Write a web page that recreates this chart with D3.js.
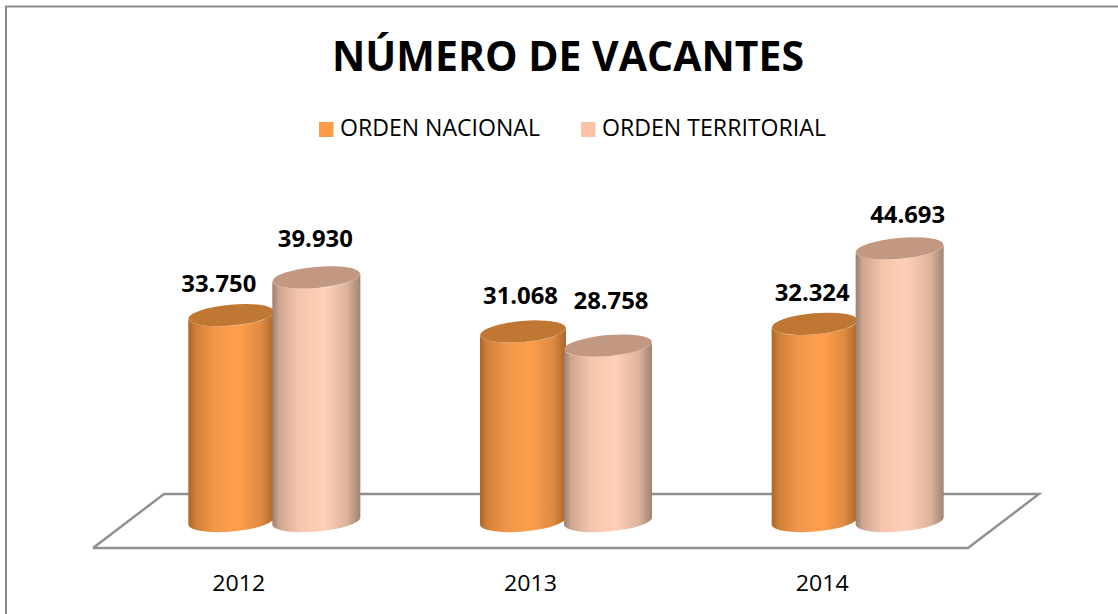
<!DOCTYPE html>
<html><head><meta charset="utf-8">
<script src="https://cdn.jsdelivr.net/npm/d3@7/dist/d3.min.js"></script>
<style>html,body{margin:0;padding:0;background:#fff}svg{display:block}text{font-family:"Open Sans",sans-serif}</style>
</head><body><div id="c"></div>
<script>
const categories = ["2012","2013","2014"];
const seriesNames = ["ORDEN NACIONAL","ORDEN TERRITORIAL"];
const nacional = [33750,31068,32324];
const territorial = [39930,28758,44693];
const labelTexts = [["33.750","31.068","32.324"],["39.930","28.758","44.693"]];
const labelDx = [[-12.5,-2.5,-2.5],[-1,3,8]];
const labelDy = [[-23,-27,-23],[-30,-37,-25]];

const W=1118,H=614;
const svg=d3.select("#c").append("svg").attr("width",W).attr("height",H);
const defs=svg.append("defs");
function grad(id,stops){
  const g=defs.append("linearGradient").attr("id",id).attr("x1",0).attr("x2",1).attr("y1",0).attr("y2",0);
  stops.forEach(s=>g.append("stop").attr("offset",s[0]).attr("stop-color",s[1]));
}
grad("g0",[[0,"#a9652a"],[.08,"#d07f38"],[.3,"#f0964a"],[.58,"#ff9f4d"],[.85,"#dd8a41"],[1,"#a9662c"]]);
grad("g1",[[0,"#9c7f6e"],[.08,"#cfa691"],[.3,"#f5c5ac"],[.58,"#ffd0b8"],[.85,"#ddb39c"],[1,"#a08372"]]);
const capColors=["#bf7733","#c39883"];
const swatch=["#fd9b48","#fcc2a8"];

// chart frame: only the top and left edges fall inside the picture
svg.append("path").attr("fill","none").attr("stroke","#8c8c8c").attr("stroke-width",2)
  .attr("d",d3.line()([[6,H],[6,6.5],[W,6.5]]));

// scales
const depthX=34;
const x=d3.scaleBand().domain(categories).range([93,968]);
const xIn=d3.scaleBand().domain([0,1]).range([2,172]);
const y=d3.scaleLinear().domain([0,50000]).range([521,216]);

// title
svg.append("text").attr("x",568).attr("y",71).attr("text-anchor","middle")
  .attr("font-size",41).attr("font-weight",700).attr("fill","#000")
  .attr("textLength",472).attr("lengthAdjust","spacingAndGlyphs").text("NÚMERO DE VACANTES");

// legend
const lgX=[319,581], lgW=[200,224];
seriesNames.forEach((n,i)=>{
  svg.append("rect").attr("x",lgX[i]).attr("y",122).attr("width",14.5).attr("height",15).attr("fill",swatch[i]);
  svg.append("text").attr("x",lgX[i]+21).attr("y",136).attr("font-size",23).attr("fill","#000")
    .attr("textLength",lgW[i]).attr("lengthAdjust","spacingAndGlyphs").text(n);
});

// floor
const fy0=548, fy1=494, fdx=71;
const fl=x.range()[0], fr=x.range()[1];
svg.append("path").attr("fill","none").attr("stroke","#8f8f8f").attr("stroke-width",2.4)
  .attr("d",d3.line()([[fl,fy0],[fr,fy0],[fr+fdx,fy1],[fl+fdx,fy1],[fl,fy0]]));

// cylinders
const series=[nacional,territorial];
const radii=[43,44], ry=10.5, tilt=-5;
categories.forEach((c,ci)=>{
  const cx0=x(c)+x.bandwidth()/2+depthX-86;
  [0,1].forEach(si=>{
    const v=series[si][ci];
    const rx=radii[si];
    const dyE=rx*Math.sin(-tilt*Math.PI/180);
    const cx=cx0+xIn(si)+xIn.bandwidth()/2;
    const yt=y(v), yb=y(0);
    const g=svg.append("g");
    const lx=cx-rx, rxx=cx+rx;
    g.append("path").attr("fill",`url(#g${si})`)
      .attr("d",`M${lx},${yt+dyE} L${lx},${yb+dyE} A${rx},${ry} ${tilt} 0 0 ${rxx},${yb-dyE} L${rxx},${yt-dyE} A${rx},${ry} ${tilt} 0 1 ${lx},${yt+dyE} Z`);
    g.append("ellipse").attr("cx",cx).attr("cy",yt).attr("rx",rx).attr("ry",ry)
      .attr("transform",`rotate(${tilt} ${cx} ${yt})`).attr("fill",capColors[si]);
  });
});
// value labels, above everything
categories.forEach((c,ci)=>{
  const cx0=x(c)+x.bandwidth()/2+depthX-86;
  [0,1].forEach(si=>{
    const cx=cx0+xIn(si)+xIn.bandwidth()/2;
    svg.append("text").attr("x",cx+labelDx[si][ci]).attr("y",y(series[si][ci])+labelDy[si][ci])
      .attr("text-anchor","middle").attr("font-size",23).attr("font-weight",700).attr("fill","#000")
      .attr("textLength",75).attr("lengthAdjust","spacingAndGlyphs").text(labelTexts[si][ci]);
  });
  svg.append("text").attr("x",x(c)+x.bandwidth()/2).attr("y",591).attr("text-anchor","middle")
    .attr("font-size",22).attr("fill","#000").attr("textLength",53).attr("lengthAdjust","spacingAndGlyphs").text(c);
});
</script></body></html>
